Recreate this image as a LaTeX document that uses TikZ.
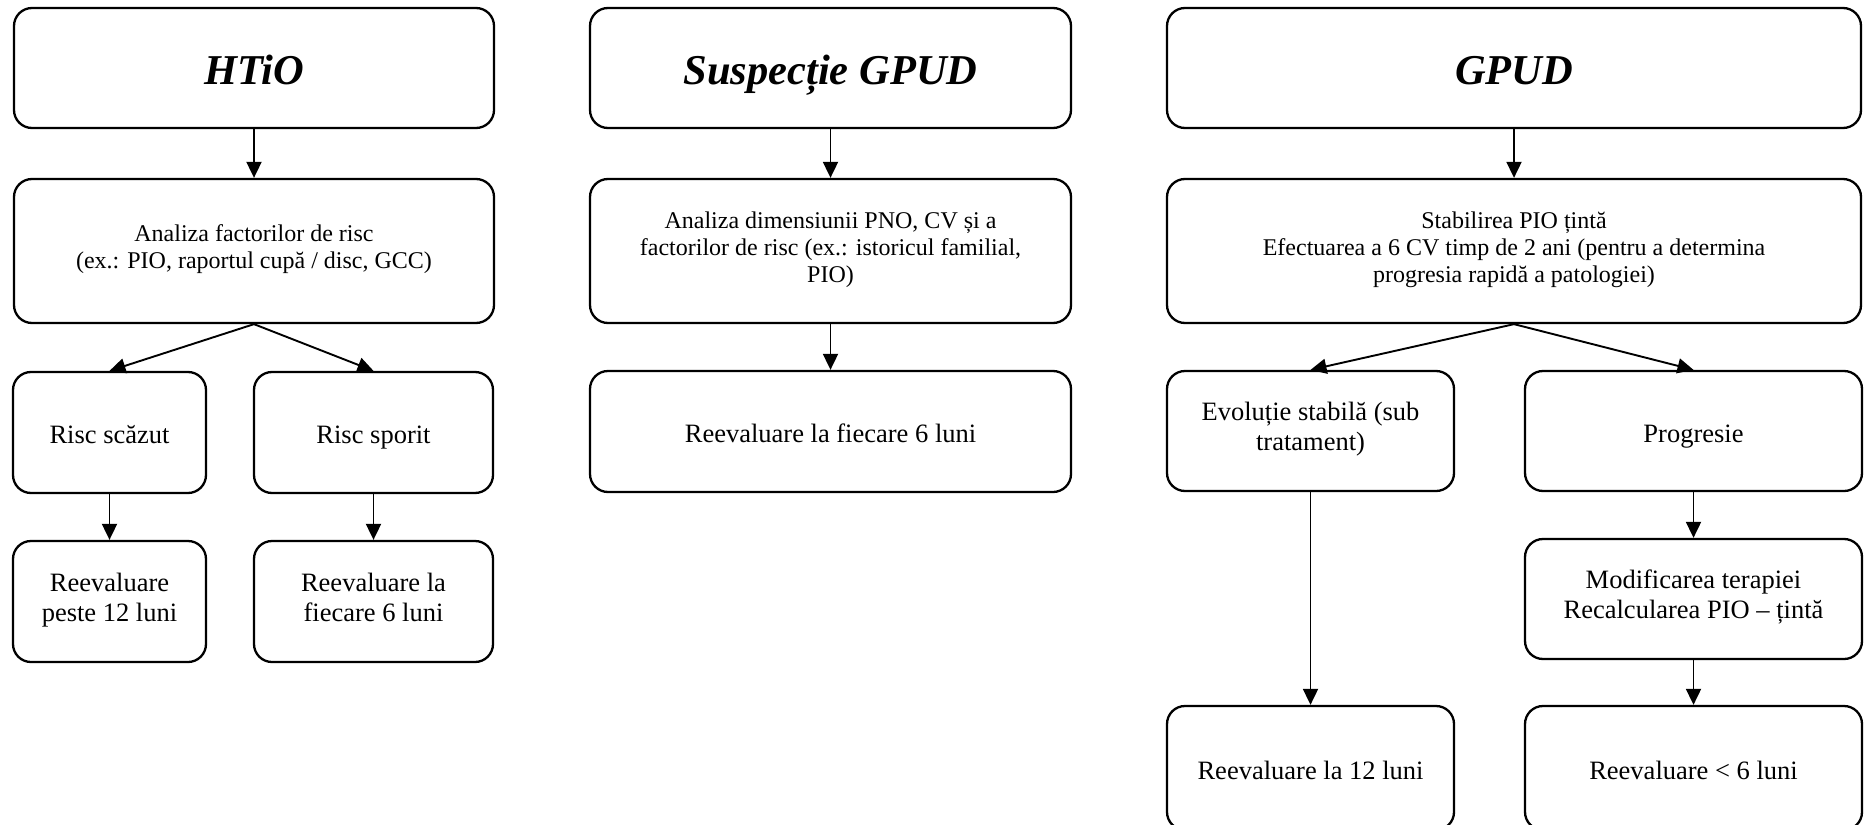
\documentclass[tikz,border=0pt]{standalone}
\usepackage{fontspec}
\setmainfont{Liberation Serif}
\usetikzlibrary{arrows.meta}
\tikzset{
  box/.style={draw, line width=1.15pt, rounded corners=9pt, inner sep=0pt, align=center, fill=white,
    execute at begin node={\rule{0pt}{\dimexpr\ht\strutbox+5pt\relax}}, execute at end node=\strut},
  bodytxt/.style={font=\fontsize{12}{13.6}\selectfont},
  bigtxt/.style={font=\fontsize{13.25}{15}\selectfont},
  titletxt/.style={font=\fontsize{21.25}{25}\selectfont\bfseries\itshape,
    execute at begin node={\rule{0pt}{\dimexpr\ht\strutbox+6pt\relax}}},
  arr/.style={line width=0.95pt, -{Triangle[length=8pt,width=7.5pt]}}
}
\begin{document}
\begin{tikzpicture}[x=0.5pt,y=-0.5pt]
\useasboundingbox (0,0) rectangle (1867,824);
% column 1
\node[box,titletxt,minimum width=240pt,minimum height=60pt] (htio) at (254,68) {HTiO};
\node[box,bodytxt,minimum width=240pt,minimum height=72pt] (an1) at (254,251) {Analiza factorilor de risc\\(ex.: PIO, raportul cupă / disc, GCC)};
\node[box,bigtxt,minimum width=96.5pt,minimum height=60.5pt] (rs) at (109.5,432.5) {Risc scăzut};
\node[box,bigtxt,minimum width=119.5pt,minimum height=60.5pt] (rp) at (373.5,432.5) {Risc sporit};
\node[box,bigtxt,minimum width=96.5pt,minimum height=60.5pt] (re1) at (109.5,601.5) {Reevaluare\\peste 12 luni};
\node[box,bigtxt,minimum width=119.5pt,minimum height=60.5pt] (re2) at (373.5,601.5) {Reevaluare la\\fiecare 6 luni};
% column 2
\node[box,titletxt,minimum width=240.5pt,minimum height=60pt] (sus) at (830.5,68) {Suspecție GPUD};
\node[box,bodytxt,minimum width=240.5pt,minimum height=72pt] (an2) at (830.5,251) {Analiza dimensiunii PNO, CV și a\\factorilor de risc (ex.: istoricul familial,\\PIO)};
\node[box,bigtxt,minimum width=240.5pt,minimum height=60.5pt] (re3) at (830.5,431.5) {Reevaluare la fiecare 6 luni};
% column 3
\node[box,titletxt,minimum width=347pt,minimum height=60pt] (gpud) at (1514,68) {GPUD};
\node[box,bodytxt,minimum width=347pt,minimum height=72pt] (stab) at (1514,251) {Stabilirea PIO țintă\\Efectuarea a 6 CV timp de 2 ani (pentru a determina\\progresia rapidă a patologiei)};
\node[box,bigtxt,minimum width=143.5pt,minimum height=60pt] (evo) at (1310.5,431) {Evoluție stabilă (sub\\tratament)};
\node[box,bigtxt,minimum width=168.5pt,minimum height=60pt] (prog) at (1693.5,431) {Progresie};
\node[box,bigtxt,minimum width=168.5pt,minimum height=60pt] (mod) at (1693.5,599) {Modificarea terapiei\\Recalcularea PIO – țintă};
\node[box,bigtxt,minimum width=143.5pt,minimum height=62pt] (re4) at (1310.5,768) {Reevaluare la 12 luni};
\node[box,bigtxt,minimum width=168.5pt,minimum height=62pt] (re5) at (1693.5,768) {Reevaluare < 6 luni};
% connectors
\draw[arr] (htio) -- (an1);
\draw[arr] (an1.south) -- (rs.north);
\draw[arr] (an1.south) -- (rp.north);
\draw[arr] (rs) -- (re1);
\draw[arr] (rp) -- (re2);
\draw[arr] (sus) -- (an2);
\draw[arr] (an2) -- (re3);
\draw[arr] (gpud) -- (stab);
\draw[arr] (stab.south) -- (evo.north);
\draw[arr] (stab.south) -- (prog.north);
\draw[arr] (evo) -- (re4);
\draw[arr] (prog) -- (mod);
\draw[arr] (mod) -- (re5);
\end{tikzpicture}
\end{document}
